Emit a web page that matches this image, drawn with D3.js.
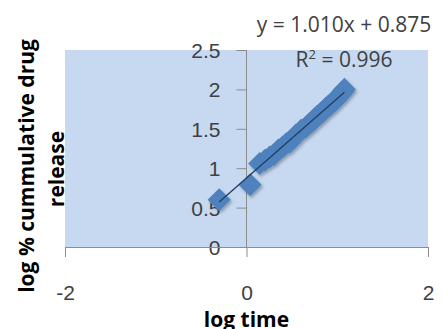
<!DOCTYPE html>
<html>
<head>
<meta charset="utf-8">
<script src="https://d3js.org/d3.v7.min.js"></script>
<style>
  body { margin: 0; background: #fff; }
  svg { display: block; font-family: "Open Sans", sans-serif; }
</style>
</head>
<body>
<svg width="445" height="329"></svg>
<script>
const svgWidth = 445;
const svgHeight = 329;

// log time vs log % cumulative drug release
const logTime = [-0.301, 0.04, 0.146, 0.204, 0.255, 0.301, 0.352, 0.398, 0.439, 0.477, 0.544, 0.602,
  0.653, 0.699, 0.74, 0.778, 0.813, 0.845, 0.875, 0.903, 0.929, 0.954, 0.978, 1.0, 1.021, 1.041,
  1.061, 1.079];
const logRelease = [0.6, 0.79, 1.06, 1.1, 1.14, 1.17, 1.23, 1.27, 1.31, 1.33, 1.42, 1.48,
  1.52, 1.57, 1.61, 1.66, 1.69, 1.72, 1.76, 1.79, 1.81, 1.84, 1.86, 1.89, 1.92, 1.94,
  1.97, 2.0];
const xTicks = [-2, 0, 2];
const yTicks = [0, 0.5, 1, 1.5, 2, 2.5];
const slope = 1.01;
const intercept = 0.875;
const eqLabel = "y = 1.010x + 0.875";
const r2Value = "0.996";

const svg = d3.select("svg");

const plot = { left: 65, right: 428, top: 50, bottom: 247 };

const xScaler = d3.scaleLinear().domain([-2, 2]).range([plot.left, plot.right]);
const yScaler = d3.scaleLinear().domain([0, 2.5]).range([plot.bottom, plot.top]);

// plot area background
svg.append("rect")
  .attr("x", plot.left)
  .attr("y", plot.top)
  .attr("width", plot.right - plot.left)
  .attr("height", plot.bottom - plot.top)
  .attr("fill", "#c6d9f1");

// y axis sits on x = 0
const yAxisGroup = svg.append("g")
  .attr("transform", `translate(${xScaler(0)}, 0)`)
  .call(d3.axisLeft(yScaler).tickValues(yTicks).tickSize(10).tickPadding(16).tickFormat((d) => String(d)));

// x axis sits on y = 0
const xAxisGroup = svg.append("g")
  .attr("transform", `translate(0, ${yScaler(0)})`)
  .call(d3.axisBottom(xScaler).tickValues(xTicks).tickSize(10).tickSizeOuter(0).tickPadding(28).tickFormat((d) => String(d)));

[xAxisGroup, yAxisGroup].forEach((g) => {
  g.select(".domain").attr("stroke", "#8c8c8c");
  g.selectAll(".tick line").attr("stroke", "#8c8c8c");
  g.selectAll(".tick text").attr("fill", "#404040").style("font-size", "21px");
});
yAxisGroup.select(".domain").attr("d", `M0,${plot.top}V${plot.bottom}`);
yAxisGroup.selectAll(".tick text").attr("dy", "0.36em");

// shadow filter for markers
const defs = svg.append("defs");
const filter = defs.append("filter").attr("id", "shadow").attr("x", "-50%").attr("y", "-50%").attr("width", "200%").attr("height", "200%");
filter.append("feDropShadow").attr("dx", 1.5).attr("dy", 2).attr("stdDeviation", 1.5).attr("flood-color", "#000").attr("flood-opacity", 0.3);

const points = logTime.map((x, i) => ({ x, y: logRelease[i] }));
const diamond = d3.symbol().type(d3.symbolDiamond2).size(340);

svg.append("g")
  .attr("filter", "url(#shadow)")
  .selectAll("path")
  .data(points)
  .join("path")
  .attr("d", diamond)
  .attr("transform", (d) => `translate(${xScaler(d.x)}, ${yScaler(d.y)})`)
  .attr("fill", "#4f81bd");

// linear trendline
const xExtent = d3.extent(logTime);
svg.append("line")
  .attr("x1", xScaler(xExtent[0]))
  .attr("y1", yScaler(slope * xExtent[0] + intercept))
  .attr("x2", xScaler(xExtent[1]))
  .attr("y2", yScaler(slope * xExtent[1] + intercept))
  .attr("stroke", "#1f3d66")
  .attr("stroke-width", 1.3);

// trendline equation
svg.append("text")
  .attr("x", 344)
  .attr("y", 32)
  .attr("text-anchor", "middle")
  .attr("fill", "#404040")
  .style("font-size", "21px")
  .text(eqLabel);

const r2 = svg.append("text")
  .attr("x", 344)
  .attr("y", 67)
  .attr("text-anchor", "middle")
  .attr("fill", "#404040")
  .style("font-size", "21px");
r2.append("tspan").text("R");
r2.append("tspan").attr("dy", -8).style("font-size", "13px").text("2");
r2.append("tspan").attr("dy", 8).text(" = " + r2Value);

// axis titles
svg.append("text")
  .attr("x", xScaler(0))
  .attr("y", 327)
  .attr("text-anchor", "middle")
  .attr("font-weight", "bold")
  .attr("fill", "#000")
  .style("font-size", "21px")
  .text("log time");

const yTitle = svg.append("text")
  .attr("transform", "translate(0, 166) rotate(-90)")
  .attr("text-anchor", "middle")
  .attr("font-weight", "bold")
  .attr("fill", "#000")
  .style("font-size", "21px");
yTitle.append("tspan").attr("x", 0).attr("y", 34).text("log % cummulative drug");
yTitle.append("tspan").attr("x", -3).attr("y", 64).text("release");
</script>
</body>
</html>
